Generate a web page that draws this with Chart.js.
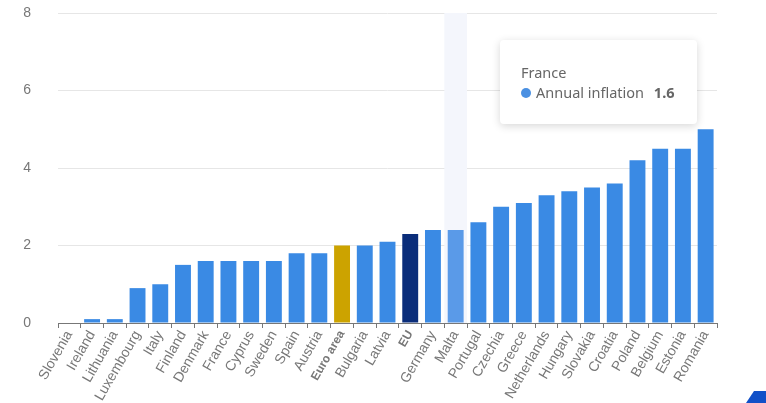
<!DOCTYPE html>
<html>
<head>
<meta charset="utf-8">
<style>
  html, body { margin: 0; padding: 0; background: #fff; overflow: hidden; }
  #wrap { position: relative; width: 766px; height: 403px; }
  #tip {
    position: absolute; left: 500px; top: 40px; width: 197px; height: 84px; box-sizing: border-box;
    background: #fff; border-radius: 4px; box-shadow: 0 2px 8px rgba(0,0,0,.16);
    padding: 22px 0 0 21px; font: 14.5px "Noto Sans", sans-serif; color: #666; line-height: 20px;
  }
  #tip i { display: inline-block; width: 10px; height: 10px; border-radius: 50%; background: #4a90e2; margin-right: 5px; }
  #tip b { margin-left: 6px; }
  #corner {
    position: absolute; left: 746px; top: 391px; width: 20px; height: 12px;
    background: #1150c8; clip-path: polygon(40% 0, 100% 0, 100% 100%, 0 100%);
  }
</style>
</head>
<body>
<div id="wrap">
  <canvas id="inflationChart" width="766" height="403"></canvas>
  <div id="tip"><div id="tipName"></div><div><i></i><span id="tipLabel"></span> <b id="tipValue"></b></div></div>
  <div id="corner"></div>
</div>
<script src="https://cdn.jsdelivr.net/npm/chart.js@4"></script>
<script>
const countries = ['Slovenia', 'Ireland', 'Lithuania', 'Luxembourg', 'Italy', 'Finland', 'Denmark', 'France', 'Cyprus', 'Sweden', 'Spain', 'Austria', 'Euro area', 'Bulgaria', 'Latvia', 'EU', 'Germany', 'Malta', 'Portugal', 'Czechia', 'Greece', 'Netherlands', 'Hungary', 'Slovakia', 'Croatia', 'Poland', 'Belgium', 'Estonia', 'Romania'];
const inflation = [0, 0.1, 0.1, 0.9, 1, 1.5, 1.6, 1.6, 1.6, 1.6, 1.8, 1.8, 2, 2, 2.1, 2.3, 2.4, 2.4, 2.6, 3, 3.1, 3.3, 3.4, 3.5, 3.6, 4.2, 4.5, 4.5, 5];
const boldLabels = ['Euro area', 'EU'];
const hoveredCountry = 'Malta';
const tooltipCountry = 'France';
const seriesName = 'Annual inflation';

const bar_colors = countries.map(c => {
    if (c === 'Euro area') return '#cca300';
    if (c === 'EU') return '#0a2d7a';
    if (c === hoveredCountry) return '#5a9ae8';
    return '#3a8ae4';
});

// pale band behind the hovered category
const hoverBand = {
    id: 'hoverBand',
    beforeDatasetsDraw(chart) {
        const x = chart.scales.x;
        const i = countries.indexOf(hoveredCountry);
        const w = x.getPixelForValue(1) - x.getPixelForValue(0);
        const { top, bottom } = chart.chartArea;
        chart.ctx.fillStyle = '#f4f6fc';
        chart.ctx.fillRect(x.getPixelForValue(i) - w / 2, top, w, bottom - top);
    }
};

const bar_ctx = document.getElementById('inflationChart');
new Chart(bar_ctx, {
    type: 'bar',
    plugins: [hoverBand],
    data: {
        labels: countries,
        datasets: [{
            label: seriesName,
            data: inflation,
            backgroundColor: bar_colors,
            categoryPercentage: 1,
            barPercentage: 0.7
        }]
    },
    options: {
        responsive: false,
        animation: false,
        layout: { padding: { top: 13, right: 49, bottom: 0, left: 0 } },
        plugins: { legend: { display: false }, tooltip: { enabled: false } },
        scales: {
            x: {
                afterFit(axis) { axis.height = 80; axis.paddingTop = 0; axis.paddingBottom = 0; axis.paddingLeft = 0; axis.paddingRight = 0; },
                grid: { offset: true, drawOnChartArea: false, tickLength: 5, tickColor: '#777', tickWidth: 1 },
                border: { color: '#777', width: 1 },
                ticks: {
                    autoSkip: false,
                    minRotation: 60,
                    maxRotation: 60,
                    padding: 0,
                    color: '#777',
                    font: ctx => {
                        const bold = boldLabels.includes(countries[ctx.index]);
                        return {
                            family: '"Liberation Sans", Arial, sans-serif',
                            size: bold ? 12 : 14,
                            weight: bold ? 'bold' : 'normal'
                        };
                    }
                }
            },
            y: {
                min: 0,
                max: 8,
                afterFit(axis) { axis.width = 58; axis.paddingTop = 0; axis.paddingBottom = 0; },
                grid: { color: '#e6e6e6', drawTicks: false },
                border: { display: false },
                ticks: {
                    stepSize: 2,
                    padding: 27,
                    color: '#777',
                    font: { family: '"Liberation Sans", Arial, sans-serif', size: 14 }
                }
            }
        }
    }
});

document.getElementById('tipName').textContent = tooltipCountry;
document.getElementById('tipLabel').textContent = seriesName;
document.getElementById('tipValue').textContent = inflation[countries.indexOf(tooltipCountry)];
</script>
</body>
</html>
